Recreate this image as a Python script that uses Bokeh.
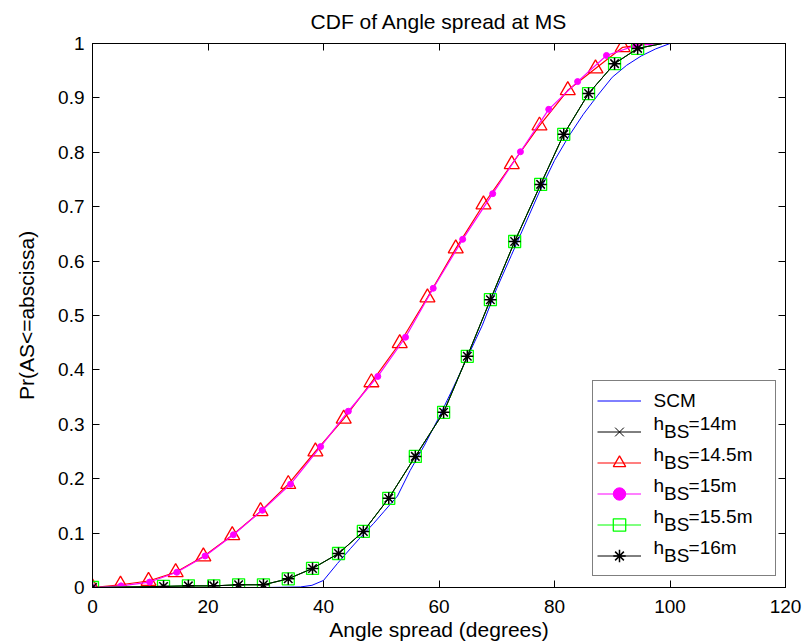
from bokeh.plotting import figure
from bokeh.models import (LinearAxis, FixedTicker, Range1d, Legend, LegendItem, Label)
from bokeh.embed import file_html
from bokeh.resources import INLINE

# ---------------- data ----------------
x_ticks = [0, 20, 40, 60, 80, 100, 120]
y_ticks = [0, 0.1, 0.2, 0.3, 0.4, 0.5, 0.6, 0.7, 0.8, 0.9, 1.0]
y_tick_labels = ["0", "0.1", "0.2", "0.3", "0.4", "0.5", "0.6", "0.7", "0.8", "0.9", "1"]

scm_x = [0, 30, 36, 38, 40, 42.4, 44.7, 46.4, 48.7, 50.5, 52.8, 55, 57.5, 60, 62.5, 65,
         67.5, 70, 72.5, 75, 77.5, 80, 82.5, 85, 87.5, 90, 92.5, 95, 97.5, 100]
scm_y = [0, 0, 0.001, 0.004, 0.013, 0.044, 0.072, 0.092, 0.118, 0.14, 0.168, 0.215, 0.262,
         0.313, 0.368, 0.425, 0.482, 0.55, 0.61, 0.67, 0.73, 0.785, 0.83, 0.87, 0.905,
         0.938, 0.96, 0.977, 0.99, 1.0]

h14_x = [0, 12.3, 16.6, 21.0, 25.3, 29.6, 33.9, 38.1, 42.6, 46.9, 51.3, 55.9, 60.8, 64.9,
         68.9, 73.1, 77.6, 81.6, 85.9, 90.4, 94.4, 98.7]
h14_y = [0, 0.002, 0.003, 0.003, 0.005, 0.005, 0.016, 0.035, 0.0625, 0.103, 0.164, 0.241,
         0.322, 0.425, 0.529, 0.636, 0.741, 0.833, 0.908, 0.963, 0.991, 1.0]

h145_x = [0, 4.85, 9.7, 14.4, 19.2, 24.2, 29.1, 33.9, 38.6, 43.5, 48.3, 53.2, 58.0, 62.9,
          67.7, 72.6, 77.4, 82.3, 87.1, 91.8, 96.7]
h145_y = [0, 0.005, 0.012, 0.028, 0.057, 0.096, 0.14, 0.19, 0.25, 0.31, 0.377, 0.449,
          0.533, 0.623, 0.704, 0.778, 0.849, 0.914, 0.954, 0.993, 1.0]

h15_x = [0, 4.95, 9.9, 14.6, 19.5, 24.4, 29.4, 34.3, 39.5, 44.3, 49.4, 54.2, 59.0, 64.1,
         69.3, 74.1, 79.0, 84.0, 89.0, 94.0, 98.5]
h15_y = [0, 0.003, 0.01, 0.028, 0.058, 0.097, 0.142, 0.19, 0.259, 0.324, 0.388, 0.46,
         0.55, 0.64, 0.724, 0.801, 0.879, 0.93, 0.978, 0.996, 1.0]

h155_x = [0, 12.3, 16.6, 21.0, 25.3, 29.6, 33.9, 38.1, 42.6, 46.9, 51.3, 55.9, 60.8, 64.9,
          68.9, 73.1, 77.6, 81.6, 85.9, 90.4, 94.4, 98.7]
h155_y = [0, 0.002, 0.003, 0.003, 0.005, 0.005, 0.016, 0.035, 0.0625, 0.103, 0.164, 0.241,
          0.322, 0.425, 0.529, 0.636, 0.741, 0.833, 0.908, 0.963, 0.991, 1.0]

h16_x = [0, 12.3, 16.6, 21.0, 25.3, 29.6, 33.9, 38.1, 42.6, 46.9, 51.3, 55.9, 60.8, 64.9,
         68.9, 73.1, 77.6, 81.6, 85.9, 90.4, 94.4, 98.7]
h16_y = [0, 0.002, 0.003, 0.003, 0.005, 0.005, 0.016, 0.035, 0.0625, 0.103, 0.164, 0.241,
         0.322, 0.425, 0.529, 0.636, 0.741, 0.833, 0.908, 0.963, 0.991, 1.0]

legend_main = ["SCM", "h", "h", "h", "h", "h"]
legend_sub = ["", "BS", "BS", "BS", "BS", "BS"]
legend_tail = ["", "=14m", "=14.5m", "=15m", "=15.5m", "=16m"]

# ---------------- layout ----------------
FONT = "Liberation Sans"
W, H = 805, 644
FL, FR, FT, FB = 92, 20, 43, 57
X0, X1, Y0, Y1 = 0, 120, 0, 1
FW, FH = W - FL - FR, H - FT - FB

p = figure(width=W, height=H, output_backend="svg", toolbar_location=None,
           x_range=Range1d(X0, X1), y_range=Range1d(Y0, Y1),
           min_border_left=FL, min_border_right=FR, min_border_top=FT, min_border_bottom=FB,
           title="CDF of Angle spread at MS")
p.background_fill_color = "white"
p.border_fill_color = "white"
p.outline_line_color = "black"
p.outline_line_width = 1
p.grid.visible = False

p.title.align = "center"
p.title.vertical_align = "top"
p.title.text_font = FONT
p.title.text_font_size = "21px"
p.title.text_font_style = "normal"
p.title.text_color = "black"
p.title.standoff = 18

for ax in (p.xaxis[0], p.yaxis[0]):
    ax.major_tick_in = 7
    ax.major_tick_out = 0
    ax.minor_tick_line_color = None
    ax.axis_line_color = "black"
    ax.major_tick_line_color = "black"
    ax.major_label_text_font = FONT
    ax.major_label_text_font_size = "19px"
    ax.major_label_text_color = "black"
    ax.axis_label_text_font = FONT
    ax.axis_label_text_font_size = "21px"
    ax.axis_label_text_font_style = "normal"
    ax.axis_label_text_color = "black"

p.xaxis.ticker = FixedTicker(ticks=x_ticks)
p.yaxis.ticker = FixedTicker(ticks=y_ticks)
p.yaxis.major_label_overrides = dict(zip(y_ticks, y_tick_labels))
p.xaxis.axis_label = "Angle spread (degrees)"
p.yaxis.axis_label = "Pr(AS<=abscissa)"
p.xaxis.major_label_standoff = 12
p.xaxis.axis_label_standoff = 2
p.yaxis.major_label_standoff = 8
p.yaxis.axis_label_standoff = 17

# box ticks on top and right: minor ticks only, so that no labels are drawn
top = LinearAxis(ticker=FixedTicker(ticks=[], minor_ticks=x_ticks),
                 major_tick_line_color=None, minor_tick_in=7, minor_tick_out=0,
                 minor_tick_line_color="black", axis_line_color="black",
                 major_label_standoff=0)
right = LinearAxis(ticker=FixedTicker(ticks=[], minor_ticks=y_ticks),
                   major_tick_line_color=None, minor_tick_in=7, minor_tick_out=0,
                   minor_tick_line_color="black", axis_line_color="black",
                   major_label_standoff=0)
p.add_layout(top, "above")
p.add_layout(right, "right")

# ---------------- series ----------------
l_scm = p.line(scm_x, scm_y, line_color="#0000ff", line_width=1)

l14 = p.line(h14_x, h14_y, line_color="black", line_width=1)
m14 = p.scatter(h14_x[:-1], h14_y[:-1], marker="x", size=7, line_color="black", line_width=1)

l145 = p.line(h145_x, h145_y, line_color="#ff0000", line_width=1.2)
m145 = p.scatter(h145_x[:-1], h145_y[:-1], marker="triangle", size=15, line_color="#ff0000",
                 fill_color=None, line_width=1.3)

l15 = p.line(h15_x, h15_y, line_color="#ff00ff", line_width=1.2)
m15 = p.scatter(h15_x[:-1], h15_y[:-1], marker="circle", size=6, line_color="#ff00ff",
                fill_color="#ff00ff")

l155 = p.line(h155_x, h155_y, line_color="#00ff00", line_width=1)
m155 = p.scatter(h155_x[:-1], h155_y[:-1], marker="square", size=12, line_color="#00ff00",
                 fill_color=None, line_width=1.3)

l16 = p.line(h16_x, h16_y, line_color="black", line_width=1)
m16 = p.scatter(h16_x[:-1], h16_y[:-1], marker="asterisk", size=12, line_color="black",
                line_width=1.5)

# ---------------- legend ----------------
rend_groups = [[l_scm], [l14, m14], [l145, m145], [l15, m15], [l155, m155], [l16, m16]]
items = [LegendItem(label=" ", renderers=r) for r in rend_groups]
LX, LY_BOTTOM, PAD, ITEM_H = 500, 11, 4, 31
legend = Legend(items=items, location=(LX, LY_BOTTOM), padding=PAD, spacing=0,
                glyph_width=44, glyph_height=ITEM_H, label_height=ITEM_H, label_width=117,
                label_standoff=13, border_line_color="black", border_line_width=1,
                background_fill_alpha=0.0, margin=0, label_text_font_size="19px")
p.add_layout(legend)


def to_data_x(px):
    return X0 + px / FW * (X1 - X0)


def to_data_y(py):
    return Y0 + py / FH * (Y1 - Y0)


def add_text(px, py, txt):
    p.add_layout(Label(x=to_data_x(px), y=to_data_y(py), text=txt,
                       text_font=FONT, text_font_size="19px", text_baseline="alphabetic",
                       text_align="left", text_color="black"))


LEG_H = 2 * PAD + len(items) * ITEM_H
text_x = LX + PAD + 44 + 13
for i, (mtxt, stxt, ttxt) in enumerate(zip(legend_main, legend_sub, legend_tail)):
    cy = LY_BOTTOM + LEG_H - PAD - ITEM_H * (i + 0.5)  # item centre, up from frame bottom
    if stxt == "":
        add_text(text_x, cy + 2, mtxt)
    else:
        add_text(text_x, cy + 10, mtxt)
        add_text(text_x + 10.6, cy + 2, stxt)
        add_text(text_x + 10.6 + 24.5, cy + 10, ttxt)

with open("out.html", "w") as f:
    f.write(file_html(p, INLINE))
